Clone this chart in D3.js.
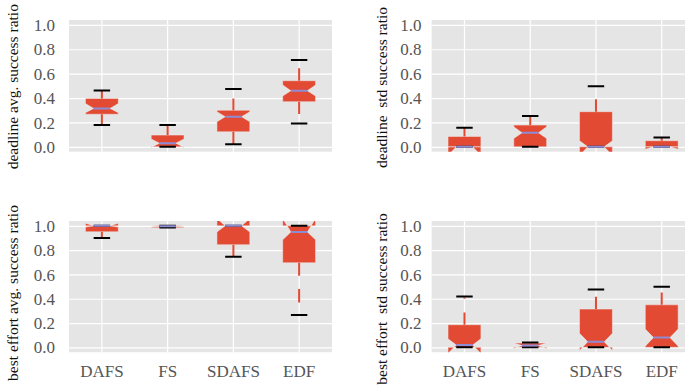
<!DOCTYPE html>
<html><head><meta charset="utf-8">
<script src="https://cdn.jsdelivr.net/npm/d3@7"></script>
<style>body{margin:0;background:#fff}svg{display:block}</style>
</head><body><svg id="c" width="685" height="386"></svg>
<script>
// ---- data ----
const categories = ["DAFS", "FS", "SDAFS", "EDF"];
const yTicks = [0, 0.2, 0.4, 0.6, 0.8, 1.0];

// box statistics per category: quartiles, median, notch limits, whisker ends, black cap marks
const deadlineAvg = [
  {q1: 0.267, med: 0.315, q3: 0.397, ciLo: 0.28, ciHi: 0.355, whisLo: 0.178, whisHi: 0.46, capLo: 0.178, capHi: 0.462},
  {q1: 0.0, med: 0.03, q3: 0.096, ciLo: -0.005, ciHi: 0.065, whisLo: 0.0, whisHi: 0.178, capLo: 0.0, capHi: 0.178},
  {q1: 0.123, med: 0.247, q3: 0.30, ciLo: 0.205, ciHi: 0.288, whisLo: 0.022, whisHi: 0.397, capLo: 0.022, capHi: 0.474},
  {q1: 0.37, med: 0.46, q3: 0.542, ciLo: 0.417, ciHi: 0.507, whisLo: 0.269, whisHi: 0.644, capLo: 0.192, capHi: 0.712}
];
const deadlineStd = [
  {q1: 0.0, med: 0.0, q3: 0.085, ciLo: -0.07, ciHi: 0.0, whisLo: 0.0, whisHi: 0.156, capLo: 0.0, capHi: 0.156},
  {q1: 0.0, med: 0.115, q3: 0.178, ciLo: 0.069, ciHi: 0.164, whisLo: 0.0, whisHi: 0.252, capLo: 0.0, capHi: 0.252},
  {q1: 0.0, med: 0.0, q3: 0.288, ciLo: -0.07, ciHi: 0.05, whisLo: 0.0, whisHi: 0.39, capLo: 0.0, capHi: 0.496},
  {q1: 0.0, med: 0.0, q3: 0.05, ciLo: -0.02, ciHi: 0.0, whisLo: 0.0, whisHi: 0.077, capLo: 0.0, capHi: 0.077}
];
const bestEffortAvg = [
  {q1: 0.951, med: 1.0, q3: 1.0, ciLo: 0.99, ciHi: 1.022, whisLo: 0.901, whisHi: 1.0, capLo: 0.901, capHi: 1.0},
  {q1: 0.985, med: 0.996, q3: 1.0, ciLo: 0.99, ciHi: 1.0, whisLo: 0.985, whisHi: 1.0, capLo: 0.987, capHi: 1.0},
  {q1: 0.845, med: 1.0, q3: 1.0, ciLo: 0.95, ciHi: 1.06, whisLo: 0.745, whisHi: 1.0, capLo: 0.745, capHi: 1.0},
  {q1: 0.696, med: 0.95, q3: 1.0, ciLo: 0.885, ciHi: 1.06, whisLo: 0.589, whisHi: 1.0, capLo: 0.266, capHi: 1.0}
];
const bestEffortStd = [
  {q1: 0.0, med: 0.019, q3: 0.186, ciLo: -0.05, ciHi: 0.07, whisLo: 0.0, whisHi: 0.287, capLo: 0.0, capHi: 0.418},
  {q1: 0.0, med: 0.015, q3: 0.035, ciLo: -0.01, ciHi: 0.035, whisLo: 0.0, whisHi: 0.035, capLo: 0.0, capHi: 0.04},
  {q1: 0.0, med: 0.046, q3: 0.315, ciLo: -0.025, ciHi: 0.115, whisLo: 0.0, whisHi: 0.416, capLo: 0.0, capHi: 0.477},
  {q1: 0.0, med: 0.08, q3: 0.35, ciLo: 0.01, ciHi: 0.15, whisLo: 0.0, whisHi: 0.452, capLo: 0.0, capHi: 0.498}
];
// extra red flier segments: [category index, low, high]
const bestEffortAvgFliers = [[3, 0.37, 0.48]];
const bestEffortStdFliers = [[0, 0.40, 0.41]];

const yLabels = ["deadline avg. success ratio", "deadline  std success ratio",
                 "best effort avg. success ratio", "best effort  std success ratio"];

// ---- layout ----
const svg = d3.select("#c");
const cols = [{x0: 69, x1: 332, pad: 14, lx: 18.3}, {x0: 431.6, x1: 694.6, pad: 10, lx: 386.7}];
const rows = [{y0: 20, y1: 151.7}, {y0: 221, y1: 352.2}];
const panels = [
  {data: deadlineAvg, fliers: [], label: yLabels[0], c: 0, r: 0, ly: 86.7},
  {data: deadlineStd, fliers: [], label: yLabels[1], c: 1, r: 0, ly: 87.5},
  {data: bestEffortAvg, fliers: bestEffortAvgFliers, label: yLabels[2], c: 0, r: 1, ly: 293},
  {data: bestEffortStd, fliers: bestEffortStdFliers, label: yLabels[3], c: 1, r: 1, ly: 299}
];

const RED = "#E24A33", MED = "#8F8CD6", BG = "#E5E5E5";
const FONT = "Liberation Serif";

panels.forEach((p, i) => {
  const C = cols[p.c], R = rows[p.r];
  const x = d3.scaleBand().domain(categories).range([C.x0, C.x1]).paddingInner(0).paddingOuter(0);
  const y = d3.scaleLinear().domain([-0.04, 1.04]).range([R.y1, R.y0]);
  const bw = x.bandwidth();
  const cx = c => x(c) + bw / 2;
  const hw = bw * 0.25;   // half box width (box width 0.5)
  const g = svg.append("g");

  g.append("rect").attr("x", C.x0).attr("y", R.y0).attr("width", C.x1 - C.x0).attr("height", R.y1 - R.y0).attr("fill", BG);

  // y axis with grid
  const ya = g.append("g").attr("transform", `translate(${C.x0},0)`)
    .call(d3.axisLeft(y).tickValues(yTicks).tickFormat(d3.format(".1f")).tickSize(-(C.x1 - C.x0)).tickPadding(C.pad));
  ya.attr("font-family", FONT).attr("font-size", 17);
  ya.select(".domain").remove();
  ya.selectAll("line").attr("stroke", "#fff").attr("stroke-width", 1.2);
  ya.selectAll("text").attr("fill", "#555").attr("dy", "0.33em");

  // x axis with grid
  const xa = g.append("g").attr("transform", `translate(0,${R.y1})`)
    .call(d3.axisBottom(x).tickSize(-(R.y1 - R.y0)).tickPadding(12.4).tickFormat(p.r === 1 ? (d => d) : () => ""));
  xa.attr("font-family", FONT).attr("font-size", 17);
  xa.select(".domain").remove();
  xa.selectAll("line").attr("stroke", "#fff").attr("stroke-width", 1.2);
  xa.selectAll("text").attr("fill", "#555");

  // clip
  const cid = "clip" + i;
  svg.append("clipPath").attr("id", cid).append("rect")
    .attr("x", C.x0).attr("y", R.y0).attr("width", C.x1 - C.x0).attr("height", R.y1 - R.y0);
  const pg = g.append("g").attr("clip-path", `url(#${cid})`);

  const line = d3.line().x(d => d[0]).y(d => y(d[1]));

  // boxes (matplotlib notched path)
  p.data.forEach((d, k) => {
    const c = cx(categories[k]);
    const L = c - hw, Rr = c + hw, cl = c - hw / 2, cr = c + hw / 2;
    const pts = [[L, d.q1], [Rr, d.q1], [Rr, d.ciLo], [cr, d.med], [Rr, d.ciHi], [Rr, d.q3],
                 [L, d.q3], [L, d.ciHi], [cl, d.med], [L, d.ciLo], [L, d.q1]];
    pg.append("path").attr("d", line(pts) + "Z").attr("fill", RED).attr("fill-rule", "nonzero")
      .attr("stroke", "#EEEEEE").attr("stroke-width", 0.5);
  });
  // whiskers
  p.data.forEach((d, k) => {
    const c = cx(categories[k]);
    if (d.whisHi > d.q3) pg.append("line").attr("x1", c).attr("x2", c).attr("y1", y(d.q3)).attr("y2", y(d.whisHi)).attr("stroke", RED).attr("stroke-width", 2);
    if (d.whisLo < d.q1) pg.append("line").attr("x1", c).attr("x2", c).attr("y1", y(d.q1)).attr("y2", y(d.whisLo)).attr("stroke", RED).attr("stroke-width", 2);
  });
  p.fliers.forEach(f => {
    const c = cx(categories[f[0]]);
    pg.append("line").attr("x1", c).attr("x2", c).attr("y1", y(f[1])).attr("y2", y(f[2])).attr("stroke", RED).attr("stroke-width", 2);
  });
  // caps
  p.data.forEach((d, k) => {
    const c = cx(categories[k]);
    [d.capLo, d.capHi].forEach(v => {
      pg.append("line").attr("x1", c - hw / 2).attr("x2", c + hw / 2).attr("y1", y(v)).attr("y2", y(v)).attr("stroke", "#000").attr("stroke-width", 2);
    });
  });
  // medians
  p.data.forEach((d, k) => {
    const c = cx(categories[k]);
    pg.append("line").attr("x1", c - hw / 2).attr("x2", c + hw / 2).attr("y1", y(d.med)).attr("y2", y(d.med)).attr("stroke", MED).attr("stroke-width", 2);
  });

  // y label
  svg.append("text").attr("transform", `translate(${C.lx},${p.ly}) rotate(-90)`)
    .attr("text-anchor", "middle").attr("fill", "#111")
    .attr("font-family", FONT).attr("font-size", 15.5).attr("xml:space", "preserve").style("white-space", "pre")
    .text(p.label);
});
</script></body></html>
